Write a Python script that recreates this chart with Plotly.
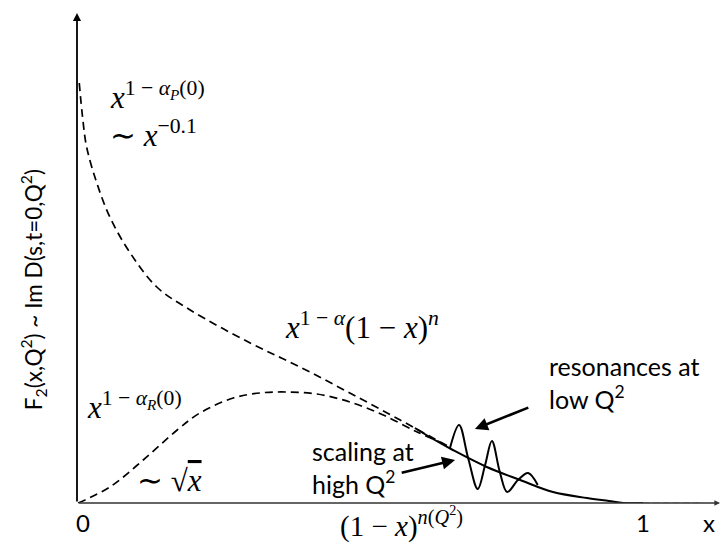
import plotly.graph_objects as go

# Regge-inspired (Pomeron) small-x rise merging into the large-x falloff
upper_x = [0.004, 0.010, 0.017, 0.035, 0.058, 0.094, 0.141, 0.200, 0.306, 0.394, 0.482, 0.571, 0.629, 0.655]
upper_y = [4.20, 3.85, 3.56, 3.20, 2.86, 2.50, 2.16, 1.93, 1.60, 1.36, 1.10, 0.83, 0.65, 0.57]

# Reggeon (valence-like) contribution ~ sqrt(x) at small x
lower_x = [0.002, 0.058, 0.117, 0.177, 0.217, 0.276, 0.323, 0.370, 0.424, 0.482, 0.541, 0.601, 0.641]
lower_y = [0.00, 0.16, 0.43, 0.73, 0.90, 1.05, 1.10, 1.11, 1.09, 1.01, 0.88, 0.71, 0.61]

# Scaling curve at high Q^2, (1-x)^n(Q^2) towards x = 1
scaling_x = [0.597, 0.629, 0.664, 0.724, 0.783, 0.841, 0.901, 0.940, 0.965, 1.000]
scaling_y = [0.75, 0.64, 0.53, 0.36, 0.23, 0.11, 0.05, 0.02, 0.00, 0.00]

# Resonance oscillations at low Q^2
res_x = [0.659, 0.675, 0.691, 0.708, 0.721, 0.733, 0.747, 0.760, 0.779, 0.797, 0.814]
res_y = [0.55, 0.78, 0.45, 0.14, 0.38, 0.62, 0.31, 0.11, 0.23, 0.30, 0.18]

# faint continuation along the axis
tail_x = [0.965, 1.10]
tail_y = [0.0, 0.0]

# axis tick labels
tick_pos = [0.011, 1.0, 1.117]
tick_text = ["0", "1", "x"]

X_MAX = 1.136
Y_MAX = 4.91

SERIF = "Liberation Serif"
SANS = "Lato"
MATH_SIZE = 31
SANS_SIZE = 25

fig = go.Figure()
fig.add_trace(go.Scatter(x=upper_x, y=upper_y, mode="lines", line_shape="spline",
                         line=dict(color="black", width=1.7, dash="8px,5px")))
fig.add_trace(go.Scatter(x=lower_x, y=lower_y, mode="lines", line_shape="spline",
                         line=dict(color="black", width=1.7, dash="8px,5px")))
fig.add_trace(go.Scatter(x=tail_x, y=tail_y, mode="lines",
                         line=dict(color="#aaaaaa", width=1.4, dash="6px,4px")))
fig.add_trace(go.Scatter(x=scaling_x, y=scaling_y, mode="lines", line_shape="spline",
                         line=dict(color="black", width=2)))
fig.add_trace(go.Scatter(x=res_x, y=res_y, mode="lines", line_shape="spline",
                         line=dict(color="black", width=2)))

ann = []
# axes drawn as arrows
ann.append(dict(x=0, y=4.90, ax=0, ay=0, xref="x", yref="y", axref="x", ayref="y",
                text="", showarrow=True, arrowhead=2, arrowsize=0.9, arrowwidth=1.8,
                arrowcolor="black"))
ann.append(dict(x=X_MAX, y=0, ax=0, ay=0, xref="x", yref="y", axref="x", ayref="y",
                text="", showarrow=True, arrowhead=2, arrowsize=0.7, arrowwidth=1.6,
                arrowcolor="#333333"))

# pointer arrows
ann.append(dict(x=0.703, y=0.74, ax=0.800, ay=0.96, xref="x", yref="y", axref="x", ayref="y",
                text="", showarrow=True, arrowhead=2, arrowsize=1.0, arrowwidth=2.6,
                arrowcolor="black"))
ann.append(dict(x=0.668, y=0.43, ax=0.571, ay=0.30, xref="x", yref="y", axref="x", ayref="y",
                text="", showarrow=True, arrowhead=2, arrowsize=1.0, arrowwidth=2.6,
                arrowcolor="black"))


def label(x, y, text, family, size, xanchor="left", align="left", yref="y", yanchor="middle"):
    ann.append(dict(x=x, y=y, xref="x", yref=yref, text=text, showarrow=False,
                    xanchor=xanchor, yanchor=yanchor, align=align,
                    font=dict(family=family, size=size, color="black")))


label(0.055, 4.08, "<i>x</i><sup>1 − <i>α</i><sub><i>P</i></sub>(0)</sup>", SERIF, MATH_SIZE)
label(0.055, 3.70, "∼ <i>x</i><sup>−0.1</sup>", SERIF, MATH_SIZE)
label(0.364, 1.78, "<i>x</i><sup>1 − <i>α</i></sup>(1 − <i>x</i>)<sup><i>n</i></sup>", SERIF, MATH_SIZE)
label(0.014, 0.98, "<i>x</i><sup>1 − <i>α</i><sub><i>R</i></sub>(0)</sup>", SERIF, MATH_SIZE)
label(0.102, 0.23, "∼ √<span style='text-decoration:overline'><i>x</i></span>", SERIF, MATH_SIZE)
label(0.461, -0.086, "(1 − <i>x</i>)<sup><i>n</i>(<i>Q</i><sup>2</sup>)</sup>", SERIF, 29,
      yref="paper", yanchor="bottom")

label(0.830, 1.21, "resonances at<br>low Q<sup>2</sup>", SANS, SANS_SIZE)
label(0.412, 0.36, "scaling at<br>high Q<sup>2</sup>", SANS, SANS_SIZE)

for xp, t in zip(tick_pos, tick_text):
    label(xp, -0.040, t, SANS, 24, xanchor="center", yref="paper")

ann.append(dict(x=-0.068, y=0.434, xref="paper", yref="paper", textangle=-90,
                text="F<sub>2</sub>(x,Q<sup>2</sup>) ~ Im D(s,t=0,Q<sup>2</sup>)",
                showarrow=False, xanchor="center", yanchor="middle",
                font=dict(family=SANS, size=22.5, color="black")))

fig.update_layout(
    width=720, height=546,
    margin=dict(l=77, r=0, t=12, b=43),
    paper_bgcolor="white", plot_bgcolor="white",
    showlegend=False,
    xaxis=dict(range=[0, X_MAX], visible=False, fixedrange=True),
    yaxis=dict(range=[0, Y_MAX], visible=False, fixedrange=True),
    annotations=ann,
)

fig.write_html("out.html")
